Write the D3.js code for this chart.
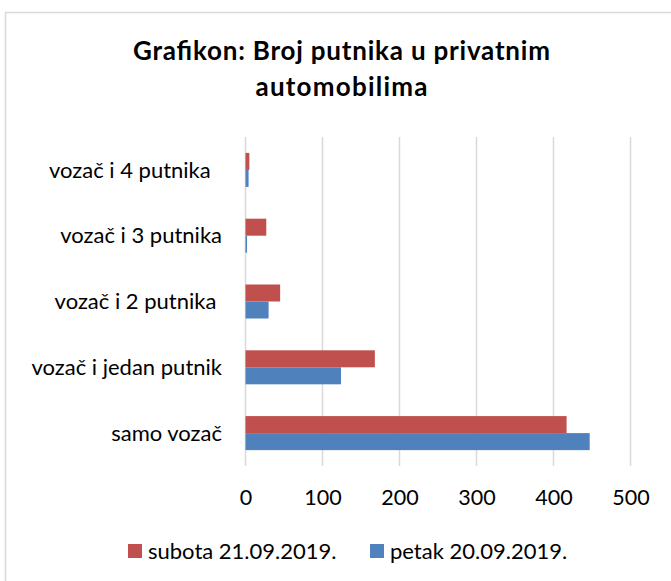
<!DOCTYPE html>
<html><head><meta charset="utf-8">
<script src="https://cdn.jsdelivr.net/npm/d3@7"></script>
<style>
body{margin:0;background:#fff;}
svg text{font-family:Lato,"Open Sans",sans-serif;fill:#000;}
</style></head>
<body>
<svg id="chart" width="671" height="581"></svg>
<script>
const categories = ["vozač i 4 putnika  ", "vozač i 3 putnika", "vozač i 2 putnika ", "vozač i jedan putnik", "samo vozač"];
const seriesNames = ["subota 21.09.2019.", "petak 20.09.2019."];
const subota = [5, 27, 45, 168, 417];
const petak = [4, 2, 30, 124, 447];
const xTicks = [0, 100, 200, 300, 400, 500];
const titleLines = ["Grafikon: Broj putnika u privatnim", "automobilima"];
const colors = ["#C0504D", "#4F81BD"];

const svg = d3.select("#chart");
svg.append("rect").attr("x",5.5).attr("y",12.5).attr("width",670).attr("height",580)
  .attr("fill","#fff").attr("stroke","#D9D9D9").attr("stroke-width",1.5);

const x = d3.scaleLinear().domain([0,500]).range([245.5,630.5]);
const y = d3.scaleBand().domain(categories).range([137,466]).paddingInner(0.483).paddingOuter(0.2415);
const ys = d3.scaleBand().domain(seriesNames).range([0,y.bandwidth()]);

// gridlines
svg.append("g").selectAll("line").data(xTicks).join("line")
  .attr("x1",d=>x(d)).attr("x2",d=>x(d)).attr("y1",137).attr("y2",466)
  .attr("stroke","#D9D9D9").attr("stroke-width",1.5);

const data = categories.map((c,i)=>({c, vals:[subota[i], petak[i]]}));
const g = svg.append("g");
data.forEach(d=>{
  g.selectAll(null).data(d.vals.map((v,j)=>({v,s:seriesNames[j],j}))).join("rect")
    .attr("x",x(0)).attr("y",e=>y(d.c)+ys(e.s))
    .attr("width",e=>x(e.v)-x(0)).attr("height",ys.bandwidth())
    .attr("fill",e=>colors[e.j]);
});

// x axis labels
const xa = svg.append("g").attr("transform","translate(0,497)").call(d3.axisBottom(x).tickValues(xTicks).tickSize(0).tickPadding(0));
xa.select(".domain").remove();
xa.selectAll("text").attr("font-size",21.5).attr("font-family","Lato").attr("fill","#000").attr("dy","0.35em").attr("y",0);

// y axis labels
const ya = svg.append("g").attr("transform","translate(222,0)").call(d3.axisLeft(y).tickSize(0).tickPadding(0));
ya.select(".domain").remove();
ya.selectAll("text").attr("font-size",22).attr("font-family","Lato").attr("fill","#000").style("white-space","pre").attr("dy","0.35em");

// title
const titleW = [417, 172];
svg.append("g").selectAll("text").data(titleLines).join("text")
  .attr("x",341.5).attr("y",(d,i)=>60+i*36).attr("text-anchor","middle")
  .attr("font-size",26).attr("font-weight","bold")
  .attr("textLength",(d,i)=>titleW[i]).attr("lengthAdjust","spacing")
  .text(d=>d);

// legend
const legX = [128, 370];
const lg = svg.append("g");
seriesNames.forEach((s,i)=>{
  lg.append("rect").attr("x",legX[i]).attr("y",544).attr("width",14).attr("height",14).attr("fill",colors[i]);
  lg.append("text").attr("x",legX[i]+20).attr("y",551).attr("dy","0.35em").attr("font-size",22).text(s);
});
</script>
</body></html>
